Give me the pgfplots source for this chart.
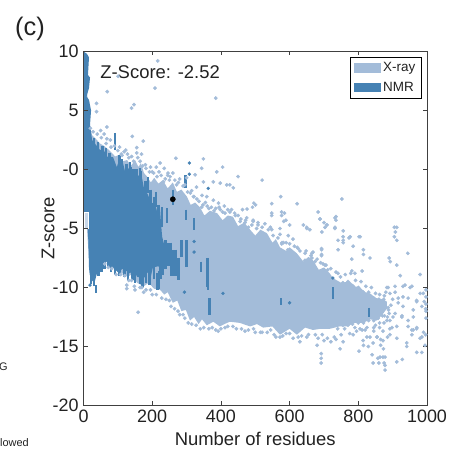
\documentclass[border=0pt]{standalone}
\usepackage{fontspec}
\setmainfont{Liberation Sans}
\usepackage{pgfplots}
\usepackage{pgfplotstable}
\pgfplotsset{compat=1.18}
\definecolor{xraycol}{HTML}{A3BCD9}
\definecolor{nmrcol}{HTML}{4682B4}
\definecolor{axcol}{HTML}{404040}
\definecolor{txtcol}{HTML}{222222}
\pgfplotstableread{
x y
216 9.2
101 7.9
69 6.6
208 6.9
385 6.05
147 5.5
140 5.2
38 5.6
38 4.9
68 3.6
142 2.8
174 2.4
123 1.65
155 1.85
169 1.3
269 0.95
349 0.9
388 -0.2
405 0.2
344 0.1
325 -0.45
349 -1.05
378 -1.05
398 -1.15
417 -1.3
359 -2.3
378 -2.6
393 -2.85
344 -3.2
320 -2.3
329 -1.5
223 0.55
246 -0.3
233 -1.05
271 -1.3
286 -2.3
243 -2
450 -0.6
520 -0.9
426 -1.3
436 -1.55
574 -2.3
752 -2.5
622 -2.9
548 -2.9
496 -2.85
501 -3
492 -3.2
476 -3.35
463 -3.4
431 -3.4
548 -3.7
548 -3.9
577 -3.6
585 -3.7
577 -3.9
683 -3.6
689 -4.2
735 -4
735 -4.3
589 -4.3
583 -4.4
528 -4.6
508 -4.5
494 -4.4
475 -4.1
456 -4.4
640 -4.7
650 -4.9
708 -4.7
700 -4.5
732 -4.9
912 -4.9
905 -4.9
908 -5.3
905 -5.7
912 -6
600 -4.7
544 -4.9
756 -5.7
756 -6.2
776 -5.7
805 -5.7
741 -6
785 -6.5
815 -6.8
815 -7.2
741 -6.8
944 -7.1
693 -6.8
693 -7.2
781 -7.6
890 -7.5
893 -7.8
912 -8.1
922 -9
980 -8.9
811 -8.6
781 -8.6
790 -8.8
741 -8.8
665 -7.1
625 -6.7
645 -7.1
595 -6.8
578 -6.2
615 -7.7
883 -10
892 -10.5
907 -9.9
930 -9.9
956 -9.9
916 -10.9
945 -10.9
970 -11.1
989 -10.5
992 -11.2
996 -11.8
985 -11.6
930 -11.6
960 -11.9
907 -12.2
892 -12.8
912 -13.3
892 -13.5
927 -12.5
945 -12.8
960 -13.6
970 -13.5
941 -14.7
941 -15
956 -14
985 -14.2
994 -14.9
970 -15.5
985 -15.5
996 -14
692 -15.6
692 -16
692 -16.4
680 -14.9
747 -15.2
802 -15.4
815 -14.9
829 -15
840 -15.7
843 -16.4
857 -16
878 -15.9
875 -16.4
878 -17
912 -16.3
928 -16.1
873 -15.2
572 -14.2
590 -13.9
625 -14.2
630 -14.6
825 -14.2
855 -14.2
865 -14.4
885 -14.2
843 -14.7
865 -14.9
494 -4.3
508 -4.7
465 -4.8
480 -4.9
548 -5.1
572 -5
572 -5.5
596 -5.6
610 -5.9
558 -6.2
577 -6.3
590 -6.2
622 -6.6
668 -7
693 -6.7
693 -7.3
665 -7.5
674 -7.8
697 -8
711 -8.5
645 -7.7
659 -5.1
650 -5
688 -4.2
703 -4.9
709 -4.7
694 -5.3
732 -4.1
756 -5.2
732 -5
756 -6
773 -5.8
802 -5.7
834 -7.5
703 -8.1
887 -10
907 -10.4
936 -9.8
951 -10
980 -10.5
930 -10.8
970 -11.2
997 -10.2
997 -10.8
997 -11.4
997 -12
997 -12.6
887 -11.7
916 -11.3
901 -12.5
883 -12.8
898 -13.4
927 -12.4
960 -12.5
945 -13.3
970 -13.4
956 -13.6
980 -14.3
990 -13.8
863 -15.9
872 -15.9
860 -16.4
878 -16.6
756 -14.6
785 -14
814 -14.5
854 -14.2
834 -14.2
872 -14.5
892 -14
912 -14.3
811 -13.6
600 -13.9
655 -14
683 -14.3
700 -14.5
720 -14.6
735 -14.4
340 -13.5
365 -13.5
385 -13.6
400 -13.5
420 -13.3
445 -13.5
470 -13.7
500 -13.8
520 -13.8
545 -13.6
555 -14
159 -12.1
150 -10.2
170 -10
175 -10.4
120 -9
140 -9.4
200 -10.6
240 -11
255 -11.6
275 -12
290 -12.3
305 -13
126 -9.8
126 -10.1
50 3.3
60 3
68 2.6
78 2.5
90 2
105 1.9
110 1.3
128 1.3
140 1.1
155 1.4
165 0.7
180 0.4
195 0.2
200 -0.2
212 0.2
220 -0.2
235 0.1
245 -0.5
260 -0.3
250 -0.9
280 -0.8
295 -1.3
300 -0.7
315 -1.8
330 -2.5
345 -2.2
355 -2.8
365 -3.3
380 -3.5
395 -3.2
410 -3.1
405 -3.6
420 -3.4
440 -3.7
450 -3.9
470 -4.5
20 3.5
28 3.2
40 3
52 2.7
66 2.2
80 1.9
100 1.6
112 1.2
118 1.5
132 1
146 0.7
158 1
172 0.3
182 0.1
192 -0.2
204 -0.3
214 -0.6
226 -0.5
238 -0.8
252 -0.6
266 -0.9
276 -1.1
290 -1.4
303 -1.9
311 -2
322 -2.3
336 -2.7
348 -3
360 -3.1
372 -3.2
385 -3.3
398 -3.4
412 -3.7
426 -3.6
442 -3.9
458 -4.2
472 -4.3
490 -4.7
504 -5
520 -4.9
538 -5.1
552 -5.6
566 -5.8
582 -6.2
600 -6.3
614 -6.5
630 -6.9
648 -6.9
662 -7.3
680 -7.6
690 -7.9
706 -8.1
720 -8.4
735 -8.7
748 -9.1
762 -8.9
778 -8.8
792 -9.4
808 -9.5
822 -9.9
838 -10
850 -10.5
862 -10.6
876 -10.7
62 -8
72 -8.3
82 -8.4
95 -8.9
108 -8.9
132 -9.4
148 -9.9
165 -10
182 -10.2
195 -10.2
212 -10.6
228 -10.9
250 -11.1
265 -11.8
280 -12.3
295 -12.6
315 -13.1
328 -13.2
350 -13.4
375 -13.4
392 -13.7
412 -13.4
435 -13.3
460 -13.5
480 -13.6
495 -13.5
515 -13.8
535 -13.8
560 -14.2
580 -14.1
610 -14.3
635 -14.1
650 -14.2
675 -14
695 -14
710 -14.3
730 -14.2
750 -14
775 -13.9
795 -13.7
820 -13.6
845 -13.4
862 -13
876 -12.4
888 -11.9
755 -9.6
770 -9.5
785 -9.9
800 -10
815 -10.4
830 -10.4
845 -10.9
860 -11
874 -11
755 -13.2
770 -13.2
783 -13.1
800 -13
815 -13
830 -12.8
845 -12.8
858 -12.6
870 -12.4
740 -13.5
760 -13.5
790 -13.4
805 -13.5
825 -13.4
850 -13.2
845 -13.7
862 -13.4
875 -13
885 -12.5
895 -11.5
872 -13.7
890 -12.2
900 -11
880 -10.4
}\xraypts
\pgfplotstableread{
x y
308 0.55
308 -0.4
363 -1.6
19 -9.8
294 -10.4
406 -10.5
600 -11.3
726 -9.2
322 -6.1
322 -7
}\nmrpts
\begin{document}
\begin{tikzpicture}[x=1bp,y=1bp]
\path[use as bounding box] (-83.5,-46.5) rectangle (373.5,405.5);
\begin{axis}[
  at={(0,0)},anchor=south west,
  scale only axis,width=343.5bp,height=354bp,
  xmin=0,xmax=1000,ymin=-20,ymax=10,
  xtick={0,200,400,600,800,1000},
  xticklabels={0,200,400,600,800,1000},
  ytick={-20,-15,-10,-5,0,5,10},
  yticklabels={-20,-15,-10,-5,-0,5,10},
  tick align=inside,
  major tick length=4bp,
  tick style={axcol,line width=0.8bp},
  axis line style={axcol,line width=1bp},
  axis on top,
  unbounded coords=jump,
  tick label style={font=\fontsize{18}{20}\selectfont,text=txtcol},
  xticklabel style={yshift=-1bp},
  yticklabel style={xshift=-1.5bp},
  label style={font=\fontsize{18.5}{20}\selectfont,text=txtcol},
  xlabel={Number of residues},
  ylabel={Z-score},
  xlabel style={at={(axis description cs:0.5,-0.095)},anchor=center},
  ylabel style={at={(axis description cs:-0.103,0.5)},anchor=center},
  legend style={at={(axis description cs:0.9846,0.9853)},anchor=north east,
    draw=black,line width=0.9bp,font=\fontsize{13.5}{15}\selectfont,text=txtcol,
    inner xsep=4bp,inner ysep=3.5bp,row sep=5bp,cells={anchor=west}},
  legend image code/.code={\fill[#1] (0bp,-4.7bp) rectangle (27bp,4.7bp);},
  legend cell align=left,
]
% X-ray dense area
\addplot[draw=none,fill=xraycol] coordinates {
(0,10)(10,9)(14,7.5)(9,7)(13,5.5)(2,5.9)(13,4.2)(25,2.9)(36,2.6)(48,2.2)(60,2)(72,1.7)(86,1.3)(92,1.1)(100,1.2)(115,0.7)(127,0.8)(138,0.3)(150,0.8)(160,0.2)(167,0.55)(176,-0.3)(185,-0.6)(196,-1.1)(206,-0.7)(218,-1.2)(231,-0.9)(245,-1.6)(260,-1.1)(272,-1.9)(285,-1.7)(301,-2.3)(312,-3)(325,-2.8)(339,-3.2)(352,-3.9)(368,-3.5)(389,-3.7)(405,-4.3)(420,-3.9)(435,-4)(450,-4.8)(468,-4.5)(485,-5.1)(500,-5.6)(515,-5.1)(534,-5.4)(550,-6.2)(560,-5.9)(572,-6.6)(590,-6.9)(600,-6.6)(621,-7.1)(640,-7.8)(655,-7.4)(668,-7.7)(685,-8.5)(700,-8.3)(717,-8.8)(726,-9.2)(750,-9.6)(776,-9.5)(790,-9.9)(805,-10)(820,-10.4)(834,-10.5)(852,-10.9)(872,-11)(883,-11.2)
(883,-11.8)(870,-12.3)(854,-12.8)(835,-12.7)(814,-13)(790,-13)(767,-13.3)(745,-13.3)(717,-13.5)(690,-13.5)(668,-13.6)(645,-13.4)(621,-14)(600,-13.5)(572,-14)(550,-13.3)(523,-13.4)(505,-13.1)(485,-13.3)(455,-13)(426,-12.9)(410,-13.1)(397,-13.3)(378,-12.9)(359,-13.2)(345,-12.7)(335,-13.1)(322,-12.5)(310,-12.8)(298,-11.9)(285,-12)(273,-11.1)(260,-11.3)(245,-10.4)(235,-10.6)(223,-10.2)(205,-10.1)(190,-9.6)(175,-9.9)(156,-9.6)(140,-8.9)(128,-9.1)(98,-8.5)(76,-8)(57,-7.7)(28,-9.5)(19,-8.8)(10,-5)(0,-5)
} \closedcycle;
\addlegendentry{X-ray\hspace{8bp}}
\addplot[only marks,forget plot,mark=*,mark size=1.7bp,color=xraycol,mark options={draw=none,fill=xraycol}] table[x=x,y=y] {\xraypts};
% NMR dense area
\addplot[draw=none,fill=nmrcol] coordinates {
(0,10)(10,9.8)(16,9.5)(13,8)(19,7.8)(16,6.9)(9,6.2)(16,5.9)(22,5)(19,3.8)(25,2.5)(36,2.1)(48,1.65)(58,1.7)(68,1.1)(86,1.05)(97,0.2)(103,0.75)(115,0.55)(122,-0.3)(130,0.1)(141,-0.05)(150,-0.9)(160,-0.5)(170,-0.65)(176,-1.6)(188,-2.15)(197,-2.9)(208,-2.75)(215,-3.7)(223,-3.4)(226,-4.7)(229,-5.7)(235,-6.4)(234,-7.4)(238,-8.2)(229,-8.5)(218,-8.2)(202,-8.3)(195,-9.2)(187,-8.7)(176,-9.2)(156,-9.1)(146,-8.5)(135,-8.8)(115,-8.4)(100,-8.7)(86,-8.3)(74,-7.9)(57,-7.7)(48,-8.6)(39,-8.8)(32,-9.6)(25,-9.4)(18,-8.9)(16,-8.3)(13,-5)(1.5,-5)(0,-4)
} \closedcycle;
\addlegendentry{NMR}
% NMR vertical streaks
\addplot[forget plot,color=nmrcol,line width=2.6bp] coordinates {
(92,3.1)(92,1.65)(92,nan)
(138,0.2)(138,-0.9)(138,nan)
(164,0.1)(164,-1.5)(164,nan)
(188,-0.65)(188,-2)(188,nan)
(260,-1.7)(260,-3)(260,nan)
(297,-0.5)(297,-1.6)(297,nan)
(243,-3.3)(243,-4.5)(243,nan)
(298,-3.4)(298,-4.3)(298,nan)
(322,-4.1)(322,-5.1)(322,nan)
(286,-6)(286,-7.4)(286,nan)
(300,-6)(300,-8.3)(300,nan)
(360,-7.5)(360,-10)(360,nan)
(216,-8.8)(216,-10.2)(216,nan)
(211,-1.9)(211,-3.2)(211,nan)
(228,-3.2)(228,-4.9)(228,nan)
(363,-7.5)(363,-10.2)(363,nan)
(366,-10.9)(366,-12.3)(366,nan)
(342,-7.8)(342,-8.7)(342,nan)
(575,-10.9)(575,-11.5)(575,nan)
(726,-10)(726,-11)(726,nan)
(831,-11.7)(831,-12.5)(831,nan)
(36,-9.8)(36,-10.5)(36,nan)
(220,-8.6)(220,-10.1)(220,nan)
(276,-7.5)(276,-9.4)(276,nan)
(30,2.7)(30,1.2)(30,nan)
(42,2.3)(42,0.8)(42,nan)
(55,2)(55,0.5)(55,nan)
(65,1.8)(65,0.3)(65,nan)
(75,1.4)(75,-0.1)(75,nan)
(105,1.2)(105,-0.3)(105,nan)
(112,0.9)(112,-0.6)(112,nan)
(125,0.5)(125,-1)(125,nan)
(135,0.6)(135,-0.9)(135,nan)
(146,0)(146,-1.5)(146,nan)
(155,0)(155,-1.5)(155,nan)
(167,-0.1)(167,-1.6)(167,nan)
(180,-1)(180,-2.5)(180,nan)
(195,-1.7)(195,-3.2)(195,nan)
(205,-2.3)(205,-3.8)(205,nan)
(218,-3)(218,-4.5)(218,nan)
(22,-9.7)(22,-8.2)(22,nan)
(30,-9.9)(30,-8.4)(30,nan)
(44,-9)(44,-7.5)(44,nan)
(52,-8.7)(52,-7.2)(52,nan)
(62,-8.4)(62,-6.9)(62,nan)
(72,-8.3)(72,-6.8)(72,nan)
(80,-8.7)(80,-7.2)(80,nan)
(92,-8.9)(92,-7.4)(92,nan)
(105,-9)(105,-7.5)(105,nan)
(120,-9.1)(120,-7.6)(120,nan)
(130,-9.4)(130,-7.9)(130,nan)
(142,-9.4)(142,-7.9)(142,nan)
(150,-9.6)(150,-8.1)(150,nan)
(165,-9.7)(165,-8.2)(165,nan)
(172,-10)(172,-8.5)(172,nan)
(182,-9.6)(182,-8.1)(182,nan)
(192,-9.8)(192,-8.3)(192,nan)
(205,-9.3)(205,-7.8)(205,nan)
(225,-9.3)(225,-7.8)(225,nan)
(232,-8.9)(232,-7.4)(232,nan)
(238,-6)(238,-8.4)(238,nan)
};
\addplot[forget plot,color=nmrcol,line width=7bp] coordinates {
(247,-6.2)(247,-8.2)(247,nan)
(262,-6.8)(262,-9)(262,nan)
};
\addplot[only marks,forget plot,mark=*,mark size=1.5bp,color=nmrcol,mark options={draw=none,fill=nmrcol}] table[x=x,y=y] {\nmrpts};
% white-outlined box on the left edge
\addplot[forget plot,draw=white,line width=0.6bp,fill=xraycol!60!white] coordinates {(3,-3.6)(14,-3.6)(14,-5)(3,-5)} --cycle;
% the marked structure
\addplot[only marks,forget plot,mark=*,mark size=2.6bp,color=black,mark options={draw=none,fill=black}] coordinates {(260,-2.52)};
\node[anchor=center,text=txtcol,font=\fontsize{18.5}{20}\selectfont] at (axis cs:223,8.26) {Z-Score: -2.52};
\end{axis}
\node[text=txtcol,font=\fontsize{25.5}{28}\selectfont] at (-53.5,376.5) {(c)};
\node[anchor=west,inner sep=0pt,text=txtcol,font=\fontsize{11}{12}\selectfont] at (-84.5,38.5) {G};
\node[anchor=west,inner sep=0pt,text=txtcol,font=\fontsize{11}{12}\selectfont] at (-83.5,-37.5) {lowed};
\end{tikzpicture}
\end{document}
